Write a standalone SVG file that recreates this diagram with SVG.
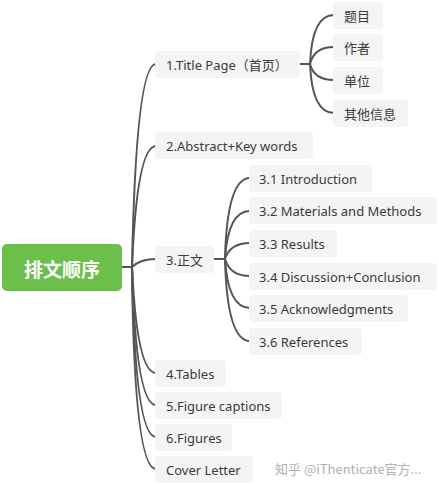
<svg xmlns="http://www.w3.org/2000/svg" width="439" height="485" viewBox="0 0 439 485">
<style>
.n rect{fill:#f4f4f4;}
.n text{font-family:"Noto Sans","Noto Sans CJK SC",sans-serif;font-size:13px;fill:#3a3a3a;dominant-baseline:central;}
.c path{fill:none;stroke:#555;stroke-width:2;stroke-linecap:round;}
</style>
<rect width="439" height="485" fill="#fff"/>
<g class="c">
<path d="M122,267 L132,267"/>
<path d="M132,267 Q136,64 156,64"/>
<path d="M132,267 Q137,146 156,146"/>
<path d="M132,267 Q140,259 156,259"/>
<path d="M132,267 Q137,373 156,373"/>
<path d="M132,267 Q136,405 156,405"/>
<path d="M132,267 Q135,437 156,437"/>
<path d="M132,267 Q134,469 156,469"/>
<path d="M300,64 L310,64"/>
<path d="M310,64 Q312,15 334,15"/>
<path d="M310,64 Q314,47 334,47"/>
<path d="M310,64 Q314,80 334,80"/>
<path d="M310,64 Q312,113 334,113"/>
<path d="M214,259 L225,259"/>
<path d="M225,259 Q227,178 250,178"/>
<path d="M225,259 Q228,211 250,211"/>
<path d="M225,259 Q230,243 250,243"/>
<path d="M225,259 Q230,276 250,276"/>
<path d="M225,259 Q228,308 250,308"/>
<path d="M225,259 Q227,341 250,341"/>
</g>
<g id="root">
<rect x="2" y="244" width="120" height="47" rx="5" fill="#6cbf4b"/>
<text x="62" y="268" text-anchor="middle" dominant-baseline="central" font-family="Noto Sans CJK SC,sans-serif" font-size="19" font-weight="bold" fill="#fff">排文顺序</text>
</g>
<g id="n1" class="n"><rect x="155" y="51" width="145" height="27" rx="4"/><text x="166" y="64.5">1.Title Page（首页）</text></g>
<g id="n2" class="n"><rect x="155" y="132" width="158" height="27" rx="4"/><text x="166" y="145.5">2.Abstract+Key words</text></g>
<g id="n3" class="n"><rect x="155" y="246" width="59" height="27" rx="4"/><text x="166" y="259.5">3.正文</text></g>
<g id="n4" class="n"><rect x="155" y="360" width="71" height="27" rx="4"/><text x="166" y="373.5">4.Tables</text></g>
<g id="n5" class="n"><rect x="155" y="392" width="127" height="27" rx="4"/><text x="166" y="405.5">5.Figure captions</text></g>
<g id="n6" class="n"><rect x="155" y="424" width="77" height="27" rx="4"/><text x="166" y="437.5">6.Figures</text></g>
<g id="n7" class="n"><rect x="155" y="456" width="98" height="27" rx="4"/><text x="166" y="469.5">Cover Letter</text></g>
<g id="t1" class="n"><rect x="333" y="2" width="50" height="27" rx="4"/><text x="344" y="15.5">题目</text></g>
<g id="t2" class="n"><rect x="333" y="34" width="50" height="27" rx="4"/><text x="344" y="47.5">作者</text></g>
<g id="t3" class="n"><rect x="333" y="67" width="50" height="27" rx="4"/><text x="344" y="80.5">单位</text></g>
<g id="t4" class="n"><rect x="333" y="100" width="75" height="27" rx="4"/><text x="344" y="113.5">其他信息</text></g>
<g id="s1" class="n"><rect x="249" y="165" width="123" height="27" rx="4"/><text x="259" y="178.5">3.1 Introduction</text></g>
<g id="s2" class="n"><rect x="249" y="197" width="188" height="27" rx="4"/><text x="259" y="210.5">3.2 Materials and Methods</text></g>
<g id="s3" class="n"><rect x="249" y="230" width="88" height="27" rx="4"/><text x="259" y="243.5">3.3 Results</text></g>
<g id="s4" class="n"><rect x="249" y="263" width="188" height="27" rx="4"/><text x="259" y="276.5">3.4 Discussion+Conclusion</text></g>
<g id="s5" class="n"><rect x="249" y="295" width="159" height="27" rx="4"/><text x="259" y="308.5">3.5 Acknowledgments</text></g>
<g id="s6" class="n"><rect x="249" y="328" width="113" height="27" rx="4"/><text x="259" y="341.5">3.6 References</text></g>
<text x="275" y="468" dominant-baseline="central" font-family="Noto Sans CJK SC,sans-serif" font-size="13" fill="#b0b0b0">知乎 @iThenticate官方...</text>
</svg>
